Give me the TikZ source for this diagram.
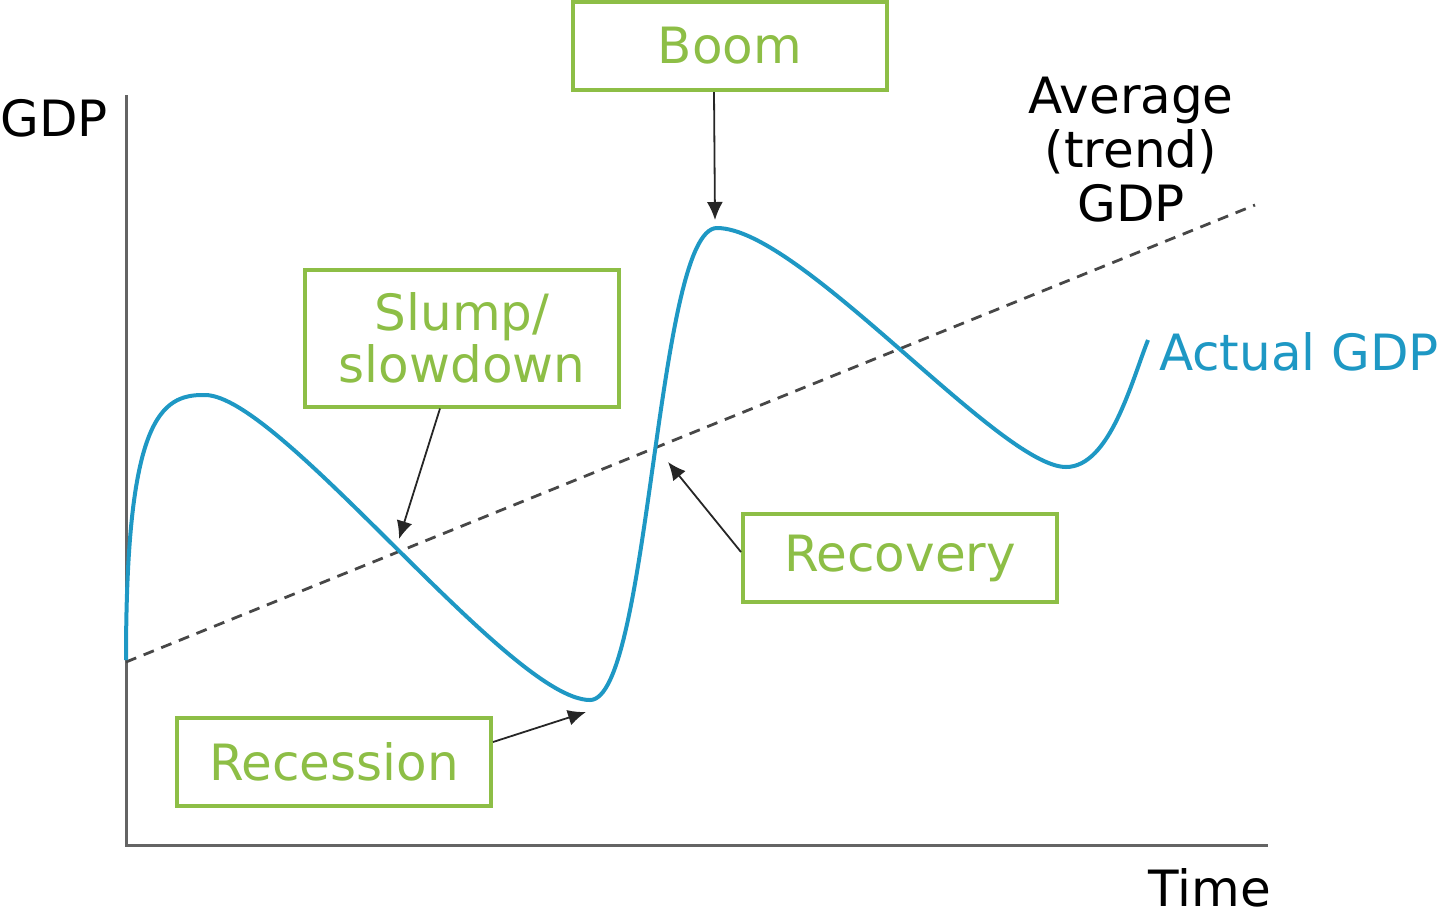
\documentclass[tikz,border=0pt]{standalone}
\usepackage{fontspec}
\setmainfont{DejaVu Sans}
\usepackage{xcolor}
\usetikzlibrary{arrows.meta,positioning}

\definecolor{phasegreen}{RGB}{141,190,70}
\definecolor{gdpblue}{RGB}{30,152,196}
\definecolor{axisgray}{RGB}{100,100,100}

\begin{document}
\begin{tikzpicture}[
  x=0.5pt, y=-0.5pt,
  phase/.style={draw=phasegreen, line width=2pt, text=phasegreen,
    minimum width=157pt, minimum height=44pt, inner sep=0pt,
    font=\fontsize{25}{26}\selectfont, align=center},
  label/.style={font=\fontsize{25}{27}\selectfont, align=center},
  pointer/.style={-{Latex[length=9pt,width=8pt]}, line width=0.9pt, black!85},
  axis/.style={axisgray, line width=1.5pt},
  trend/.style={black!72, line width=1.4pt, dash pattern=on 5.5pt off 4pt},
  actual/.style={gdpblue, line width=2pt}
]
\useasboundingbox (0,0) rectangle (1440,918);

% axes
\coordinate (ytop) at (126,95);
\coordinate (origin) at (126,845);
\coordinate (xend) at (1268,845);
\draw[axis] (ytop) -- (origin) -- (xend);
\node[label] (gdplabel) at (54,118) {GDP};
\node[label] (timelabel) at (1210,888) {Time};

% trend line
\coordinate (trendstart) at (126,662);
\coordinate (trendend) at (1255,205);
\draw[trend] (trendstart) -- (trendend);
\node[label] (trendlabel) at (1131,150) {Average\\(trend)\\GDP};

% actual GDP
\coordinate (start) at (126,660);
\coordinate (peakA) at (205,395);
\coordinate (troughA) at (590,700);
\coordinate (peakB) at (717,228);
\coordinate (troughB) at (1066,467);
\coordinate (finish) at (1148,340);
\draw[actual] (start) .. controls (126,420) and (160,394) .. (peakA)
  .. controls (280,395) and (510,700) .. (troughA)
  .. controls (650,700) and (656,228) .. (peakB)
  .. controls (800,228) and (1000,467) .. (troughB)
  .. controls (1110,467) and (1132,380) .. (finish);
\node[label, text=gdpblue, anchor=west] (actuallabel) at (1152,352) {Actual GDP};

% phases
\node[phase] (boom) at (730,46) {Boom};
\node[phase, minimum height=68.5pt] (slump) at (462,338) {Slump/\\slowdown};
\node[phase] (recovery) at (900,558) {Recovery};
\node[phase] (recession) at (334,762) {Recession};

\coordinate (boomtip) at (715,220);
\coordinate (slumptip) at (399,539);
\coordinate (recoverytip) at (668,462);
\coordinate (recessiontip) at (586,712);
\draw[pointer] ([xshift=-8pt]boom.south) -- (boomtip);
\draw[pointer] ([xshift=-11pt]slump.south) -- (slumptip);
\draw[pointer] ([yshift=3pt]recovery.west) -- (recoverytip);
\draw[pointer] ([yshift=10pt]recession.east) -- (recessiontip);
\end{tikzpicture}
\end{document}
